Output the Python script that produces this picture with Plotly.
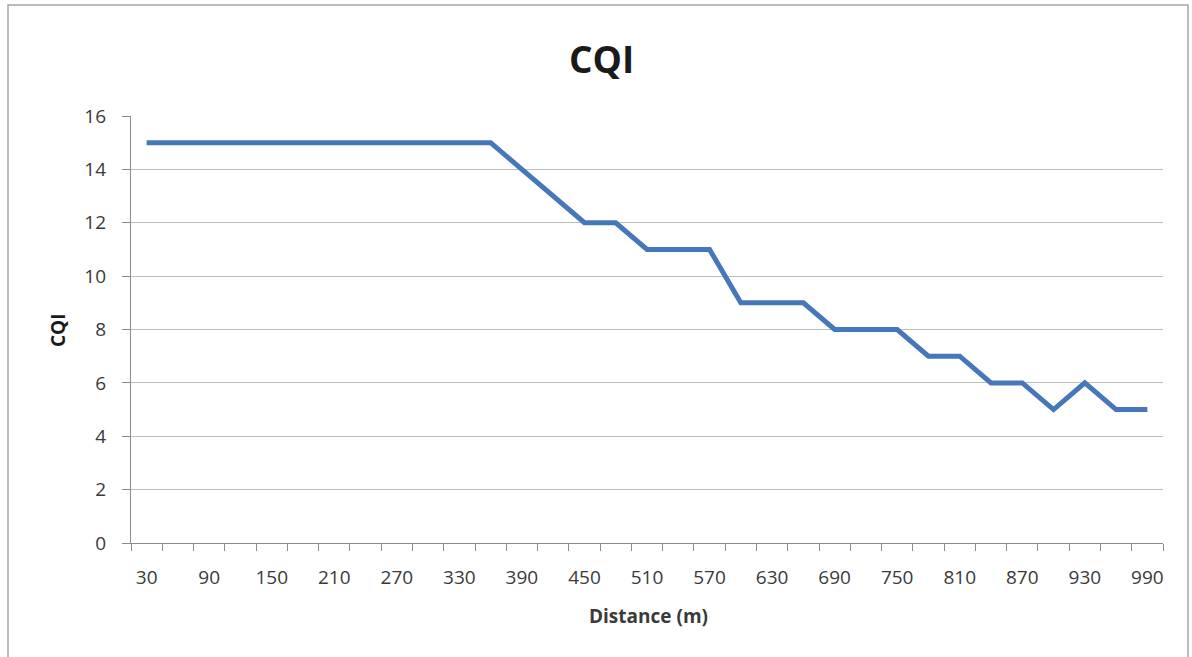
import plotly.graph_objects as go

distance = [30, 60, 90, 120, 150, 180, 210, 240, 270, 300, 330, 360,
            390, 420, 450, 480, 510, 540, 570, 600, 630, 660, 690, 720,
            750, 780, 810, 840, 870, 900, 930, 960, 990]
cqi = [15, 15, 15, 15, 15, 15, 15, 15, 15, 15, 15, 15,
       14, 13, 12, 12, 11, 11, 11, 9, 9, 9, 8, 8,
       8, 7, 7, 6, 6, 5, 6, 5, 5]
x_tick_labels = [30, 90, 150, 210, 270, 330, 390, 450, 510, 570, 630, 690, 750, 810, 870, 930, 990]
y_ticks = [0, 2, 4, 6, 8, 10, 12, 14, 16]

W, H = 1192, 657
L, R, T, B = 131, 29, 116, 114
PW, PH = W - L - R, H - T - B
FONT = "Open Sans"
TXT = "#3a3a3a"


def px(x):
    return (x - L) / PW


def py(y):
    return (H - B - y) / PH


fig = go.Figure()
fig.add_trace(go.Scatter(x=distance, y=cqi, mode="lines",
                         line=dict(color="#4677BA", width=5),
                         showlegend=False, hoverinfo="x+y"))

fig.update_layout(
    width=W, height=H,
    margin=dict(l=L, r=R, t=T, b=B),
    paper_bgcolor="white", plot_bgcolor="white",
    font=dict(family=FONT, size=19, color=TXT),
    xaxis=dict(range=[15, 1005], tickvals=x_tick_labels,
               ticktext=[str(v) for v in x_tick_labels],
               ticks="", showgrid=False, zeroline=False,
               showline=True, linecolor="#8c8c8c", linewidth=1.3,
               tickfont=dict(size=19, color=TXT), ticklabelstandoff=17,
               minor=dict(ticks="outside", tick0=15, dtick=30, ticklen=7,
                          tickcolor="#8c8c8c", tickwidth=1.3, showgrid=False)),
    yaxis=dict(range=[0, 16], tickvals=y_ticks, ticks="outside", ticklen=8,
               tickcolor="#8c8c8c", tickwidth=1.3,
               showgrid=True, gridcolor="#bdbdbd", gridwidth=1.3,
               zeroline=False, showline=True, linecolor="#8c8c8c", linewidth=1.3,
               tickfont=dict(size=19, color=TXT), ticklabelstandoff=12),
    annotations=[
        dict(text="<b>CQI</b>", x=px(601), y=py(58), xref="paper", yref="paper",
             showarrow=False, font=dict(family=FONT, size=37, color="#1a1a1a"),
             xanchor="center", yanchor="middle"),
        dict(text="<b>Distance (m)</b>", x=px(648), y=py(616), xref="paper", yref="paper",
             showarrow=False, font=dict(family=FONT, size=19, color=TXT),
             xanchor="center", yanchor="middle"),
        dict(text="<b>CQI</b>", x=px(58), y=py(330), xref="paper", yref="paper",
             showarrow=False, textangle=-90, font=dict(family=FONT, size=19, color="#1a1a1a"),
             xanchor="center", yanchor="middle"),
    ],
    shapes=[
        dict(type="rect", xref="paper", yref="paper",
             x0=px(8), x1=px(1188), y0=py(665), y1=py(5),
             line=dict(color="#a6a6a6", width=1.5), layer="below"),
    ],
)

fig.write_html("out.html")
